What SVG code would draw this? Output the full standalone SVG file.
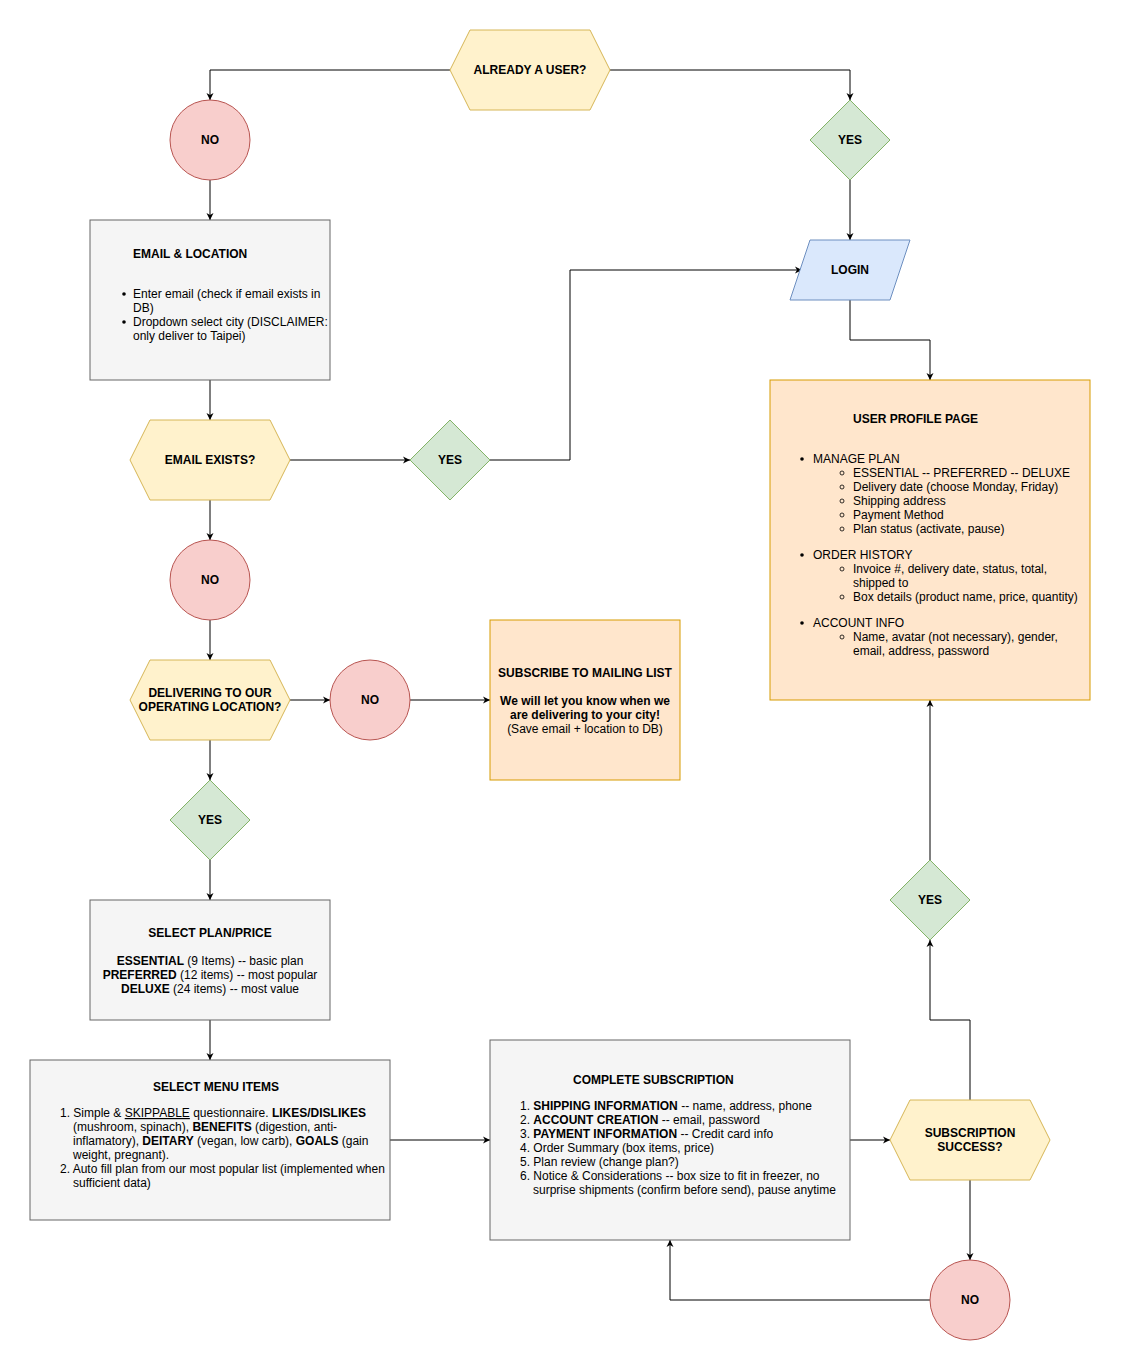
<svg xmlns="http://www.w3.org/2000/svg" width="1121" height="1371" viewBox="0 0 1121 1371">
<defs><marker id="a" markerWidth="10" markerHeight="10" refX="8" refY="5" orient="auto" markerUnits="userSpaceOnUse"><path d="M1,1.5 L8,5 L1,8.5 L3,5 Z" fill="#000"/></marker></defs>
<style>
text{font-family:"Liberation Sans",Arial,sans-serif;font-size:12px;fill:#000}
.b{font-weight:bold}.m{text-anchor:middle}
.y{fill:#fff2cc;stroke:#d6b656}.r{fill:#f8cecc;stroke:#b85450}.g{fill:#d5e8d4;stroke:#82b366}
.bl{fill:#dae8fc;stroke:#6c8ebf}.o{fill:#ffe6cc;stroke:#d79b00}.gr{fill:#f5f5f5;stroke:#666666}
#c path{fill:none;stroke:#000;stroke-width:1;marker-end:url(#a)}
</style>
<rect width="1121" height="1371" fill="#fff"/>
<g id="c">
<path d="M450,70H210V100"/><path d="M610,70H850V100"/><path d="M850,180V240"/><path d="M210,180V220"/>
<path d="M850,300V340H930V380"/><path d="M210,380V420"/><path d="M290,460H410"/><path d="M490,460H570V270H802"/>
<path d="M210,500V540"/><path d="M210,620V660"/><path d="M290,700H330"/><path d="M410,700H490"/>
<path d="M210,740V780"/><path d="M210,860V900"/><path d="M210,1020V1060"/><path d="M390,1140H490"/>
<path d="M850,1140H890"/><path d="M970,1100V1020H930V940"/><path d="M930,860V700"/><path d="M970,1180V1260"/>
<path d="M930,1300H670V1240"/>
</g>
<g id="user"><polygon class="y" points="450,70 470,30 590,30 610,70 590,110 470,110"/><text class="b m" x="530" y="74">ALREADY A USER?</text></g>
<g id="no1"><circle class="r" cx="210" cy="140" r="40"/><text class="b m" x="210" y="144">NO</text></g>
<g id="yes1"><polygon class="g" points="850,100 890,140 850,180 810,140"/><text class="b m" x="850" y="144">YES</text></g>
<g id="login"><polygon class="bl" points="810,240 910,240 890,300 790,300"/><text class="b m" x="850" y="274">LOGIN</text></g>
<g id="email"><rect class="gr" x="90" y="220" width="240" height="160"/>
<text class="b" x="133" y="258">EMAIL &amp; LOCATION</text>
<circle cx="124" cy="294" r="1.8"/><text x="133" y="298">Enter email (check if email exists in</text><text x="133" y="312">DB)</text>
<circle cx="124" cy="322" r="1.8"/><text x="133" y="326">Dropdown select city (DISCLAIMER:</text><text x="133" y="340">only deliver to Taipei)</text></g>
<g id="profile"><rect class="o" x="770" y="380" width="320" height="320"/>
<text class="b" x="853" y="423">USER PROFILE PAGE</text>
<circle cx="802" cy="459" r="1.8"/><text x="813" y="463">MANAGE PLAN</text>
<g fill="none" stroke="#000" stroke-width="0.8"><circle cx="842" cy="473" r="2"/><circle cx="842" cy="487" r="2"/><circle cx="842" cy="501" r="2"/><circle cx="842" cy="515" r="2"/><circle cx="842" cy="529" r="2"/><circle cx="842" cy="569" r="2"/><circle cx="842" cy="597" r="2"/><circle cx="842" cy="637" r="2"/></g>
<text x="853" y="477">ESSENTIAL -- PREFERRED -- DELUXE</text><text x="853" y="491">Delivery date (choose Monday, Friday)</text><text x="853" y="505">Shipping address</text><text x="853" y="519">Payment Method</text><text x="853" y="533">Plan status (activate, pause)</text>
<circle cx="802" cy="555" r="1.8"/><text x="813" y="559">ORDER HISTORY</text>
<text x="853" y="573">Invoice #, delivery date, status, total,</text><text x="853" y="587">shipped to</text><text x="853" y="601">Box details (product name, price, quantity)</text>
<circle cx="802" cy="623" r="1.8"/><text x="813" y="627">ACCOUNT INFO</text>
<text x="853" y="641">Name, avatar (not necessary), gender,</text><text x="853" y="655">email, address, password</text></g>
<g id="exists"><polygon class="y" points="130,460 150,420 270,420 290,460 270,500 150,500"/><text class="b m" x="210" y="464">EMAIL EXISTS?</text></g>
<g id="yes2"><polygon class="g" points="450,420 490,460 450,500 410,460"/><text class="b m" x="450" y="464">YES</text></g>
<g id="no2"><circle class="r" cx="210" cy="580" r="40"/><text class="b m" x="210" y="584">NO</text></g>
<g id="deliver"><polygon class="y" points="130,700 150,660 270,660 290,700 270,740 150,740"/><text class="b m" x="210" y="697">DELIVERING TO OUR</text><text class="b m" x="210" y="711">OPERATING LOCATION?</text></g>
<g id="no3"><circle class="r" cx="370" cy="700" r="40"/><text class="b m" x="370" y="704">NO</text></g>
<g id="mail"><rect class="o" x="490" y="620" width="190" height="160"/>
<text class="b m" x="585" y="677">SUBSCRIBE TO MAILING LIST</text><text class="b m" x="585" y="705">We will let you know when we</text><text class="b m" x="585" y="719">are delivering to your city!</text><text class="m" x="585" y="733">(Save email + location to DB)</text></g>
<g id="yes3"><polygon class="g" points="210,780 250,820 210,860 170,820"/><text class="b m" x="210" y="824">YES</text></g>
<g id="plan"><rect class="gr" x="90" y="900" width="240" height="120"/>
<text class="b m" x="210" y="937">SELECT PLAN/PRICE</text>
<text class="m" x="210" y="965"><tspan class="b">ESSENTIAL</tspan> (9 Items) -- basic plan</text>
<text class="m" x="210" y="979"><tspan class="b">PREFERRED</tspan> (12 items) -- most popular</text>
<text class="m" x="210" y="993"><tspan class="b">DELUXE</tspan> (24 items) -- most value</text></g>
<g id="menu"><rect class="gr" x="30" y="1060" width="360" height="160"/>
<text class="b m" x="216" y="1091">SELECT MENU ITEMS</text>
<text x="60" y="1117">1. Simple &amp; <tspan text-decoration="underline">SKIPPABLE</tspan> questionnaire. <tspan class="b">LIKES/DISLIKES</tspan></text>
<text x="73" y="1131">(mushroom, spinach), <tspan class="b">BENEFITS</tspan> (digestion, anti-</text>
<text x="73" y="1145">inflamatory), <tspan class="b">DEITARY</tspan> (vegan, low carb), <tspan class="b">GOALS</tspan> (gain</text>
<text x="73" y="1159">weight, pregnant).</text>
<text x="60" y="1173">2. Auto fill plan from our most popular list (implemented when</text>
<text x="73" y="1187">sufficient data)</text></g>
<g id="complete"><rect class="gr" x="490" y="1040" width="360" height="200"/>
<text class="b" x="573" y="1084">COMPLETE SUBSCRIPTION</text>
<text x="520" y="1110">1. <tspan class="b">SHIPPING INFORMATION</tspan> -- name, address, phone</text>
<text x="520" y="1124">2. <tspan class="b">ACCOUNT CREATION</tspan> -- email, password</text>
<text x="520" y="1138">3. <tspan class="b">PAYMENT INFORMATION</tspan> -- Credit card info</text>
<text x="520" y="1152">4. Order Summary (box items, price)</text>
<text x="520" y="1166">5. Plan review (change plan?)</text>
<text x="520" y="1180">6. Notice &amp; Considerations -- box size to fit in freezer, no</text>
<text x="533" y="1194">surprise shipments (confirm before send), pause anytime</text></g>
<g id="success"><polygon class="y" points="890,1140 910,1100 1030,1100 1050,1140 1030,1180 910,1180"/><text class="b m" x="970" y="1137">SUBSCRIPTION</text><text class="b m" x="970" y="1151">SUCCESS?</text></g>
<g id="yes4"><polygon class="g" points="930,860 970,900 930,940 890,900"/><text class="b m" x="930" y="904">YES</text></g>
<g id="no4"><circle class="r" cx="970" cy="1300" r="40"/><text class="b m" x="970" y="1304">NO</text></g>
</svg>
